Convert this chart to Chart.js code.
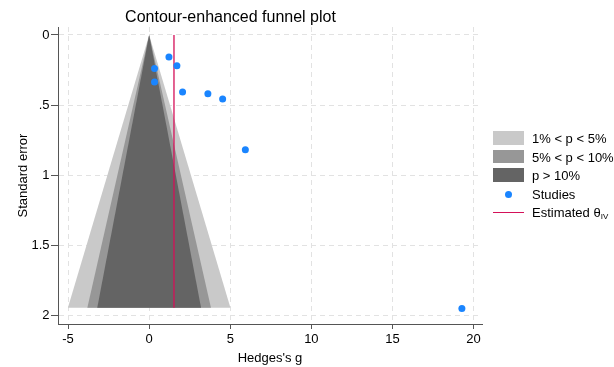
<!DOCTYPE html>
<html>
<head>
<meta charset="utf-8">
<script src="https://cdn.jsdelivr.net/npm/chart.js@4"></script>
<style>
  body { margin: 0; background: #fff; }
  #wrap { position: relative; width: 614px; height: 367px; overflow: hidden; font-family: 'Liberation Sans', Arial, sans-serif; }
  #legend { position: absolute; left: 493px; top: 130px; font-size: 13px; color: #000; white-space: nowrap; }
  .row { position: relative; height: 18.5px; }
  .key { position: absolute; left: 0; width: 31px; }
  .txt { position: absolute; left: 39px; top: 1px; line-height: 16px; }
  sub { font-size: 8px; vertical-align: -2px; }
</style>
</head>
<body>
<div id="wrap">
  <canvas id="chart" width="614" height="367"></canvas>
  <div id="legend"></div>
</div>
<script>
// study estimates
const studyG = [1.22, 1.71, 0.33, 0.33, 2.06, 3.62, 4.53, 5.93, 19.28];
const studySE = [0.157, 0.219, 0.238, 0.335, 0.407, 0.419, 0.457, 0.818, 1.95];
const thetaIV = 1.53;

// funnel contours: half width at the base for 1%, 5%, 10%
const contourLabels = ['1% < p < 5%', '5% < p < 10%', 'p > 10%'];
const contourHalfWidth = [5.01, 3.81, 3.20];
const contourColors = ['#c9c9c9', '#979797', '#646464'];
const funnelBaseSE = 1.945;

const xTicks = [-5, 0, 5, 10, 15, 20];
const yTicks = [0, 0.5, 1, 1.5, 2];

const font = "'Liberation Sans', Arial, sans-serif";

const points = studyG.map((g, i) => ({ x: g, y: studySE[i] }));

function funnel(w) {
  return [
    { x: 0, y: 0 },
    { x: w, y: funnelBaseSE },
    { x: -w, y: funnelBaseSE },
    { x: 0, y: 0 }
  ];
}

// first dataset is drawn on top
const datasets = [
  {
    type: 'scatter',
    data: points,
    backgroundColor: '#1a85ff',
    borderWidth: 0,
    pointRadius: 3.5
  },
  {
    type: 'line',
    data: [{ x: thetaIV, y: 0 }, { x: thetaIV, y: funnelBaseSE }],
    borderColor: '#d41159',
    borderWidth: 1.3,
    pointRadius: 0
  }
];
for (let i = contourHalfWidth.length - 1; i >= 0; i--) {
  datasets.push({
    type: 'line',
    data: funnel(contourHalfWidth[i]),
    borderWidth: 0,
    borderColor: contourColors[i],
    backgroundColor: contourColors[i],
    pointRadius: 0,
    fill: 'shape',
    tension: 0
  });
}

const titlePlugin = {
  id: 'plotTitle',
  afterDraw(chart) {
    const ctx = chart.ctx;
    ctx.save();
    ctx.font = '16px ' + font;
    ctx.fillStyle = '#000';
    ctx.textAlign = 'center';
    ctx.textBaseline = 'alphabetic';
    ctx.fillText('Contour-enhanced funnel plot', 230.5, 21.5);
    ctx.restore();
  }
};

new Chart(document.getElementById('chart'), {
  data: { datasets: datasets },
  options: {
    responsive: false,
    animation: false,
    layout: { padding: { top: 27, right: 132, left: 0, bottom: 0 } },
    plugins: {
      legend: { display: false },
      tooltip: { enabled: false }
    },
    scales: {
      x: {
        type: 'linear',
        min: -5.62,
        max: 20.52,
        afterBuildTicks: s => { s.ticks = xTicks.map(v => ({ value: v })); },
        afterFit: s => { s.height = 43; },
        grid: { color: '#e2e2e2', tickColor: '#555', tickLength: 5 },
        border: { color: '#555', width: 1, dash: [5, 4] },
        ticks: { color: '#000', font: { family: font, size: 13 }, padding: 3, maxRotation: 0 },
        title: { display: true, text: "Hedges's g", color: '#000', font: { family: font, size: 13 }, padding: { top: 0, bottom: 1 } }
      },
      y: {
        type: 'linear',
        reverse: true,
        min: -0.057,
        max: 2.06,
        afterBuildTicks: s => { s.ticks = yTicks.map(v => ({ value: v })); },
        afterFit: s => { s.width = 58; },
        grid: { color: '#e2e2e2', tickColor: '#555', tickLength: 7 },
        border: { color: '#555', width: 1, dash: [5, 4] },
        ticks: {
          color: '#000',
          font: { family: font, size: 13 },
          padding: 1.5,
          callback: v => String(v).replace(/^0\./, '.')
        },
        title: { display: true, text: 'Standard error', color: '#000', font: { family: font, size: 13 }, padding: { top: 16, bottom: 0 } }
      }
    }
  },
  plugins: [titlePlugin]
});

// legend
const legend = document.getElementById('legend');
contourLabels.forEach((label, i) => {
  const row = document.createElement('div');
  row.className = 'row';
  row.innerHTML = '<div class="key" style="top:1px;height:13.5px;background:' + contourColors[i] + '"></div>' +
    '<div class="txt">' + label + '</div>';
  legend.appendChild(row);
});
const studyRow = document.createElement('div');
studyRow.className = 'row';
studyRow.innerHTML = '<div class="key" style="top:5px;left:12px;width:7px;height:7px;border-radius:50%;background:#1a85ff"></div>' +
  '<div class="txt">Studies</div>';
legend.appendChild(studyRow);
const estRow = document.createElement('div');
estRow.className = 'row';
estRow.innerHTML = '<div class="key" style="top:8px;height:1.3px;background:#d41159"></div>' +
  '<div class="txt">Estimated &theta;<sub>IV</sub></div>';
legend.appendChild(estRow);
</script>
</body>
</html>
